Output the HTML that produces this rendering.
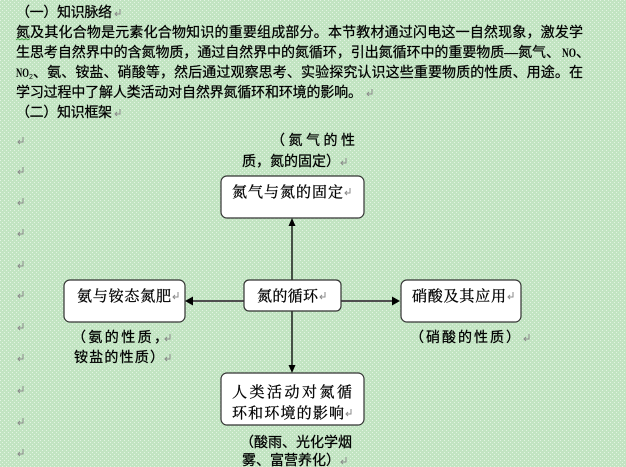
<!DOCTYPE html>
<html><head><meta charset="utf-8">
<style>
html,body{margin:0;padding:0;}
body{width:626px;height:467px;overflow:hidden;background:#c8e8c8;}
svg{display:block;}
.p{font-family:"Liberation Sans","Noto Sans CJK SC",sans-serif;font-size:14px;fill:#000;stroke:#000;stroke-width:0.25;}
.b{font-family:"Liberation Serif","Noto Serif CJK SC",serif;font-size:15px;fill:#000;stroke:#000;stroke-width:0.3;}
.l{font-family:"Liberation Sans","Noto Sans CJK SC",sans-serif;font-size:14px;fill:#000;stroke:#000;stroke-width:0.25;}
.no{font-family:"Liberation Serif",serif;font-weight:bold;font-size:13px;fill:#000;}
</style></head>
<body>
<svg width="626" height="467" viewBox="0 0 626 467" xmlns="http://www.w3.org/2000/svg">
<defs>
<pattern id="dith" width="4" height="4" patternUnits="userSpaceOnUse">
<rect width="4" height="4" fill="#c2e4c2"/>
<rect x="0" y="0" width="1" height="1" fill="#e2f4e2"/>
<rect x="2" y="2" width="1" height="1" fill="#e2f4e2"/>
</pattern>
<g id="ret"><path d="M6,0 V5 H1" fill="none" stroke="#8a8a8a" stroke-width="1"/><path d="M3,3 L1,5 L3,7" fill="none" stroke="#8a8a8a" stroke-width="1"/></g>
</defs>
<rect width="626" height="467" fill="url(#dith)"/>

<!-- Paragraph text -->
<text class="p" x="16" y="17" textLength="96" lengthAdjust="spacing">（一）知识脉络</text>
<use href="#ret" x="114" y="9"/>

<text class="p" x="16" y="37" textLength="567" lengthAdjust="spacing">氮及其化合物是元素化合物知识的重要组成部分。本节教材通过闪电这一自然现象，激发学</text>
<polyline points="16,40 18,38.5 20,40 22,38.5 24,40 26,38.5 28,40 30,38.5" fill="none" stroke="#3a9a3a" stroke-width="0.8"/>

<text class="p" x="16" y="57" textLength="544" lengthAdjust="spacing">生思考自然界中的含氮物质，通过自然界中的氮循环，引出氮循环中的重要物质—氮气、</text>
<text class="no" x="562" y="57" textLength="14" lengthAdjust="spacingAndGlyphs">NO</text>
<text class="p" x="576" y="57">、</text>

<text class="no" x="16" y="77" textLength="13" lengthAdjust="spacingAndGlyphs">NO</text>
<text x="29" y="79" font-family="Liberation Sans" font-size="7" fill="#000">2</text>
<text class="p" x="33" y="77" textLength="550" lengthAdjust="spacing">、氨、铵盐、硝酸等，然后通过观察思考、实验探究认识这些重要物质的性质、用途。在</text>

<text class="p" x="16" y="97" textLength="346" lengthAdjust="spacing">学习过程中了解人类活动对自然界氮循环和环境的影响。</text>
<use href="#ret" x="366" y="89"/>

<text class="p" x="16" y="117" textLength="96" lengthAdjust="spacing">（二）知识框架</text>
<use href="#ret" x="114" y="109"/>

<!-- empty paragraph marks -->
<use href="#ret" x="17" y="137"/>
<use href="#ret" x="17" y="167"/>
<use href="#ret" x="17" y="198"/>
<use href="#ret" x="17" y="229"/>
<use href="#ret" x="17" y="261"/>
<use href="#ret" x="17" y="291"/>
<use href="#ret" x="17" y="323"/>
<use href="#ret" x="17" y="354"/>
<use href="#ret" x="17" y="386"/>
<use href="#ret" x="17" y="418"/>
<use href="#ret" x="17" y="449"/>

<!-- connectors -->
<line x1="292" y1="280" x2="292" y2="224" stroke="#000" stroke-width="1.3"/>
<polygon points="292,218 288.5,226 295.5,226" fill="#000"/>
<line x1="292" y1="311" x2="292" y2="367" stroke="#000" stroke-width="1.3"/>
<polygon points="292,373 288.5,365 295.5,365" fill="#000"/>
<line x1="244" y1="301" x2="191" y2="301" stroke="#505050" stroke-width="2"/>
<polygon points="185,301 193,296.5 193,305.5" fill="#000"/>
<line x1="341" y1="301" x2="394" y2="301" stroke="#505050" stroke-width="2"/>
<polygon points="400,301 392,296.5 392,305.5" fill="#000"/>

<!-- boxes -->
<rect x="221" y="176" width="143" height="42" rx="6" fill="#fff" stroke="#333" stroke-width="1.2"/>
<rect x="244" y="280" width="97" height="31" rx="5" fill="#fff" stroke="#333" stroke-width="1.2"/>
<rect x="64" y="280" width="121" height="42" rx="6" fill="#fff" stroke="#333" stroke-width="1.2"/>
<rect x="401" y="280" width="120" height="42" rx="6" fill="#fff" stroke="#333" stroke-width="1.2"/>
<rect x="221" y="373" width="143" height="52" rx="6" fill="#fff" stroke="#333" stroke-width="1.2"/>

<!-- box text -->
<text class="b" x="232" y="197" textLength="111" lengthAdjust="spacing">氮气与氮的固定</text>
<use href="#ret" x="344" y="188"/>
<text class="b" x="257" y="301" textLength="61" lengthAdjust="spacing">氮的循环</text>
<use href="#ret" x="319" y="292"/>
<text class="b" x="77" y="301" textLength="94" lengthAdjust="spacing">氨与铵态氮肥</text>
<use href="#ret" x="172" y="292"/>
<text class="b" x="412" y="301" textLength="94" lengthAdjust="spacing">硝酸及其应用</text>
<use href="#ret" x="507" y="292"/>
<text class="b" x="232" y="397" textLength="120" lengthAdjust="spacing">人类活动对氮循</text>
<text class="b" x="232" y="418" textLength="112" lengthAdjust="spacing">环和环境的影响</text>
<use href="#ret" x="345" y="409"/>

<!-- labels -->
<text class="l" x="271" y="145" textLength="84" lengthAdjust="spacing">（氮气的性</text>
<text class="l" x="242" y="166" textLength="98" lengthAdjust="spacing">质，氮的固定）</text>
<use href="#ret" x="340" y="158"/>

<text class="l" x="72" y="342" textLength="96" lengthAdjust="spacing">（氨的性质，</text>
<use href="#ret" x="164" y="334"/>
<text class="l" x="74" y="362" textLength="90" lengthAdjust="spacing">铵盐的性质）</text>
<use href="#ret" x="164" y="354"/>

<text class="l" x="410" y="342" textLength="110" lengthAdjust="spacing">（硝酸的性质）</text>
<use href="#ret" x="523" y="334"/>

<text class="l" x="240" y="447" textLength="112" lengthAdjust="spacing">（酸雨、光化学烟</text>
<text class="l" x="242" y="465" textLength="98" lengthAdjust="spacing">雾、富营养化）</text>
<use href="#ret" x="340" y="457"/>
</svg>
</body></html>
